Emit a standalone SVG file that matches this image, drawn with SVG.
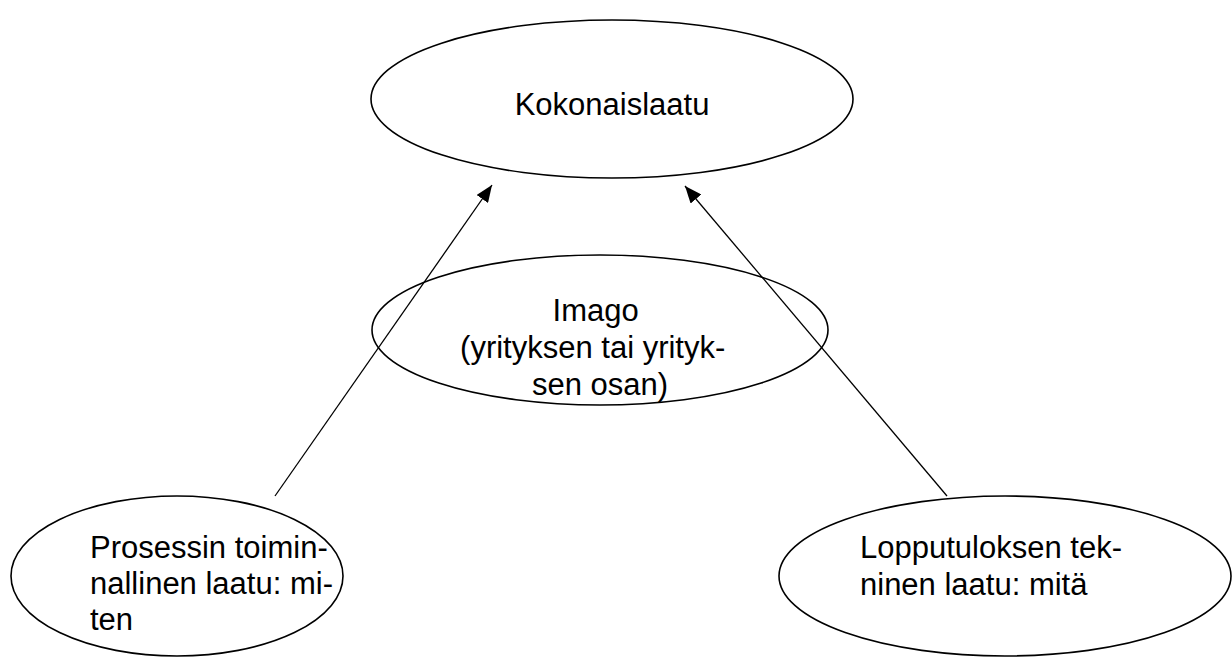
<svg xmlns="http://www.w3.org/2000/svg" width="1232" height="657" viewBox="0 0 1232 657">
  <style>
    .node ellipse { fill: #ffffff; stroke: #000000; stroke-width: 1.6; }
    .node text { font-family: "Liberation Sans", Arial, sans-serif; font-size: 31px; fill: #000000; }
    .mid { text-anchor: middle; }
    .edge { stroke: #000000; stroke-width: 1.3; fill: none; marker-end: url(#arrow); }
  </style>
  <defs>
    <marker id="arrow" viewBox="0 0 17 14" refX="17" refY="7" markerWidth="17" markerHeight="14" markerUnits="userSpaceOnUse" orient="auto">
      <path d="M0,0 L17,7 L0,14 Z" fill="#000000"/>
    </marker>
  </defs>
  <rect width="1232" height="657" fill="#ffffff"/>

  <g id="kokonaislaatu" class="node">
    <ellipse cx="612" cy="99" rx="241" ry="79"/>
    <text x="612" y="115" class="mid">Kokonaislaatu</text>
  </g>

  <g id="imago" class="node">
    <ellipse cx="600" cy="330" rx="228" ry="75"/>
    <text class="mid">
      <tspan x="600" y="321">Imago</tspan>
      <tspan x="597" y="358">(yrityksen tai yrityk-</tspan>
      <tspan x="600" y="395">sen osan)</tspan>
    </text>
  </g>

  <g id="prosessi" class="node">
    <ellipse cx="177" cy="576" rx="166" ry="80"/>
    <text>
      <tspan x="90" y="558">Prosessin toimin-</tspan>
      <tspan x="90" y="594">nallinen laatu: mi-</tspan>
      <tspan x="90" y="630">ten</tspan>
    </text>
  </g>

  <g id="lopputulos" class="node">
    <ellipse cx="1005" cy="576" rx="226" ry="80"/>
    <text>
      <tspan x="860" y="558">Lopputuloksen tek-</tspan>
      <tspan x="860" y="595">ninen laatu: mitä</tspan>
    </text>
  </g>

  <g id="connectors">
    <line class="edge" x1="275" y1="496" x2="492" y2="185"/>
    <line class="edge" x1="947" y1="496" x2="685" y2="186"/>
  </g>
</svg>
